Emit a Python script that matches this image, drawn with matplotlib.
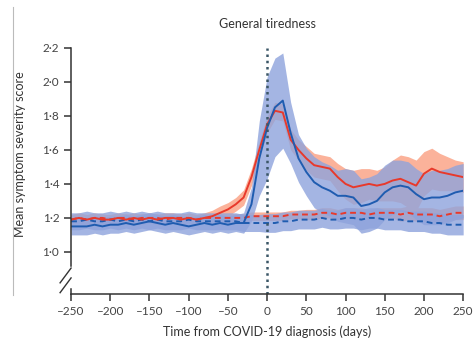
import numpy as np
import matplotlib
matplotlib.use("Agg")
import matplotlib.pyplot as plt
from matplotlib.ticker import FuncFormatter
from matplotlib.lines import Line2D

plt.rcParams['font.family'] = ['Lato', 'DejaVu Sans']

# days from diagnosis, every 10 days
days = np.arange(-250, 251, 10)

# cases (solid) and controls (dashed)
red_case = [1.19, 1.20, 1.19, 1.20, 1.19, 1.19, 1.20, 1.19, 1.20, 1.19,
            1.20, 1.19, 1.20, 1.20, 1.19, 1.20, 1.19, 1.20, 1.21, 1.23,
            1.25, 1.28, 1.32, 1.44, 1.60, 1.75, 1.83, 1.82, 1.66, 1.60,
            1.55, 1.51, 1.50, 1.49, 1.44, 1.40, 1.38, 1.39, 1.40, 1.39,
            1.40, 1.42, 1.43, 1.41, 1.39, 1.46, 1.49, 1.47, 1.46, 1.45, 1.44]
red_case_ci = [0.03] * 18 + [0.035, 0.04, 0.04, 0.04, 0.045, 0.05, 0.05,
               0.05, 0.05, 0.05, 0.06, 0.06, 0.07, 0.07, 0.07, 0.07, 0.08,
               0.09, 0.10, 0.10, 0.09, 0.09, 0.10, 0.12, 0.14, 0.15, 0.15,
               0.13, 0.12, 0.11, 0.10, 0.09, 0.09]

blue_case = [1.15, 1.15, 1.15, 1.16, 1.15, 1.16, 1.16, 1.17, 1.16, 1.17,
             1.18, 1.17, 1.16, 1.17, 1.16, 1.15, 1.16, 1.17, 1.16, 1.17,
             1.16, 1.17, 1.17, 1.28, 1.55, 1.73, 1.85, 1.89, 1.70, 1.55,
             1.47, 1.41, 1.38, 1.36, 1.33, 1.33, 1.32, 1.27, 1.28, 1.30,
             1.35, 1.38, 1.39, 1.38, 1.34, 1.31, 1.32, 1.32, 1.33, 1.35, 1.36]
blue_case_ci = [0.05] * 22 + [0.06, 0.10, 0.22, 0.30, 0.29, 0.28, 0.18,
                0.14, 0.14, 0.15, 0.15, 0.15, 0.15, 0.16, 0.16, 0.16, 0.16,
                0.16, 0.16, 0.16, 0.15, 0.15, 0.15, 0.15, 0.16, 0.16, 0.16,
                0.16, 0.16]

red_ctrl = [1.19, 1.20, 1.19, 1.20, 1.20, 1.19, 1.20, 1.20, 1.19, 1.20,
            1.20, 1.20, 1.19, 1.20, 1.20, 1.20, 1.19, 1.20, 1.20, 1.20,
            1.20, 1.20, 1.20, 1.21, 1.21, 1.21, 1.21, 1.21, 1.22, 1.22,
            1.22, 1.22, 1.23, 1.23, 1.22, 1.23, 1.23, 1.23, 1.22, 1.23,
            1.23, 1.23, 1.22, 1.23, 1.22, 1.22, 1.22, 1.21, 1.22, 1.23, 1.23]
red_ctrl_ci = [0.025] * 30 + [0.03] * 12 + [0.04] * 9

blue_ctrl = [1.18, 1.18, 1.19, 1.18, 1.18, 1.19, 1.18, 1.19, 1.18, 1.19,
             1.18, 1.19, 1.18, 1.18, 1.18, 1.19, 1.18, 1.18, 1.18, 1.18,
             1.18, 1.18, 1.17, 1.17, 1.17, 1.17, 1.17, 1.18, 1.18, 1.19,
             1.19, 1.19, 1.20, 1.19, 1.19, 1.20, 1.20, 1.19, 1.20, 1.20,
             1.19, 1.19, 1.19, 1.18, 1.18, 1.18, 1.17, 1.17, 1.16, 1.16, 1.16]
blue_ctrl_ci = [0.05] * 25 + [0.055] * 10 + [0.06] * 16

xticks = [-250, -200, -150, -100, -50, 0, 50, 100, 150, 200, 250]
yticks = [1.0, 1.2, 1.4, 1.6, 1.8, 2.0, 2.2]

red = '#e8392b'
red_fill = '#fbb29a'
blue = '#1f5cb0'
blue_fill = '#8ea3dc'

fig = plt.figure(figsize=(4.77, 3.47), dpi=100)
ax = fig.add_axes([0.149, 0.153, 0.822, 0.709])

rc, bc = np.array(red_case), np.array(blue_case)
rk, bk = np.array(red_ctrl), np.array(blue_ctrl)

ax.fill_between(days, rc - red_case_ci, rc + red_case_ci, color=red_fill, lw=0)
ax.fill_between(days, rk - red_ctrl_ci, rk + red_ctrl_ci, color=red_fill, lw=0)
ax.fill_between(days, bc - blue_case_ci, bc + blue_case_ci, color=blue_fill, lw=0, alpha=0.8)
ax.fill_between(days, bk - blue_ctrl_ci, bk + blue_ctrl_ci, color=blue_fill, lw=0, alpha=0.8)

ax.plot(days, rk, color=red, lw=1.4, ls=(0, (3, 2)))
ax.plot(days, bk, color=blue, lw=1.4, ls=(0, (3, 2)))
ax.plot(days, rc, color=red, lw=1.4)
ax.plot(days, bc, color=blue, lw=1.4)

ax.axvline(0, ymin=0, ymax=1, color='#3b5666', lw=1.8, ls=(0, (1, 1.5)))

ax.set_xlim(-250, 250)
ax.set_ylim(0.753, 2.2)
ax.set_xticks(xticks)
ax.set_yticks(yticks)
ax.yaxis.set_major_formatter(FuncFormatter(lambda v, p: f"{v:.1f}".replace('.', '\u00b7')))
ax.xaxis.set_major_formatter(FuncFormatter(lambda v, p: f"{int(v)}".replace('-', '\u2013')))

for s in ['top', 'right']:
    ax.spines[s].set_visible(False)
ax.spines['left'].set_bounds(0.92, 2.2)
ax.spines['left'].set_color('#333333')
ax.spines['bottom'].set_color('#333333')
ax.spines['left'].set_linewidth(1.1)
ax.spines['bottom'].set_linewidth(1.1)
ax.tick_params(axis='both', colors='#333333', labelsize=8.5, length=5, width=1.1,
               labelcolor='#444444')

# axis break marks
tr = ax.transAxes
for y0 in (0.085, 0.045):
    ax.add_line(Line2D([-0.028, 0.0], [y0 - 0.04, y0 + 0.02], transform=tr,
                       color='#333333', lw=1.0, clip_on=False))
ax.add_line(Line2D([0, 0], [0, 0.02], transform=tr, color='#333333', lw=1.1, clip_on=False))

ax.set_title('General tiredness', fontsize=9, color='#333333', pad=14)
ax.set_xlabel('Time from COVID-19 diagnosis (days)', fontsize=9, color='#333333', labelpad=6)
ax.set_ylabel('Mean symptom severity score', fontsize=9, color='#333333')
ax.yaxis.set_label_coords(-0.115, 0.57)

fig.add_artist(Line2D([0.027, 0.027], [0.15, 0.98], transform=fig.transFigure,
                      color='#bbbbbb', lw=0.8))

fig.savefig('out.png', dpi=100)
